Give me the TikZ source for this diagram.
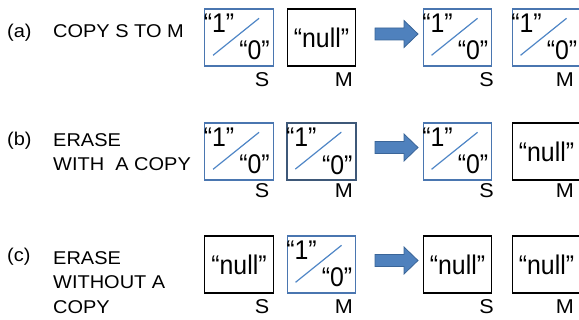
\documentclass[tikz,border=0pt]{standalone}
\usepackage{fontspec}
\setmainfont{Liberation Sans}
\newfontfamily\widefont[FakeStretch=1.08]{Liberation Sans}
\newfontfamily\bitfont[FakeStretch=0.92]{Liberation Sans}
\usepackage{xcolor}
\usepackage{tikz}
\definecolor{cellblue}{HTML}{4A76B0}
\definecolor{slashblue}{HTML}{4F86C6}
\definecolor{celldark}{HTML}{3E5878}
\definecolor{arrowfill}{HTML}{4F81BD}
\definecolor{arrowline}{HTML}{3A6598}

\begin{document}
\begin{tikzpicture}[x=1pt,y=-1pt,
        cell/.style={minimum width=68.5pt,minimum height=57pt,line width=1.4pt},
        bitcell/.style={cell,draw=cellblue},
        darkcell/.style={cell,draw=celldark,line width=1.8pt},
        nullcell/.style={cell,draw=black,font=\bitfont\fontsize{27}{30}\selectfont},
        bit/.style={font=\bitfont\fontsize{27}{30}\selectfont},
        slash/.style={draw=slashblue,line width=1.2pt},
        caption/.style={font=\widefont\fontsize{18.5}{24.5}\selectfont},
        regname/.style={font=\widefont\fontsize{20}{22}\selectfont,anchor=base east},
        blockarrow/.style={fill=arrowfill,draw=arrowline,line width=0.8pt}]
        \tikzstyle{every node}+=[inner sep=0pt]
        \clip (0,0) rectangle (579,320);
        \node[caption,anchor=base west] (a-tag) at (7,37.3) {(a)};
        \node[caption,anchor=base west] (a-text) at (53,37.3) {COPY S TO M};
        \node[caption,anchor=base west] (b-tag) at (7,145.5) {(b)};
        \node[caption,anchor=north west,align=left] (b-text) at (53,133) {ERASE\\WITH\ \ A COPY};
        \node[caption,anchor=base west] (c-tag) at (7,261.5) {(c)};
        \node[caption,anchor=north west,align=left] (c-text) at (53,251) {ERASE\\WITHOUT A\\COPY};
        \foreach \n/\x/\y/\s in {aS/239/37.5/bitcell, aS2/457.5/37.5/bitcell, aM2/546.5/37.5/bitcell,
                bS/239/151.5/bitcell, bM/321.5/151.5/darkcell, bS2/457.5/151.5/bitcell, cM/321.5/264.5/bitcell} {
            \node[\s] (\n) at (\x,\y) {};
            \node[bit,anchor=base west] (\n-one) at ([shift={(-0.5,24.3)}]\n.north west) {“1”};
            \node[bit,anchor=base east] (\n-zero) at ([shift={(-4,-6.7)}]\n.south east) {“0”};
            \draw[slash] ([shift={(9,47)}]\n.north west) -- ([shift={(55,10)}]\n.north west);
        }
        \foreach \n/\x/\y in {aM/321.5/37.5, bM2/546.5/151.5, cS/239/264.5, cS2/457.5/264.5, cM2/546.5/264.5}
            \node[nullcell] (\n) at (\x,\y) {“null”};
        \foreach \r/\y in {a/34, b/147.5, c/260.5}
            \draw[blockarrow] (375,\y-6) -- (404,\y-6) -- (404,\y-13.5) -- (418,\y)
                -- (404,\y+13.5) -- (404,\y+6) -- (375,\y+6) -- cycle;
        \foreach \r/\y in {a/87, b/198, c/313.5} {
            \node[regname] (\r-s1) at (269.5,\y) {S};
            \node[regname] (\r-m1) at (353,\y) {M};
            \node[regname] (\r-s2) at (494,\y) {S};
            \node[regname] (\r-m2) at (574,\y) {M};
        }
    \end{tikzpicture}
\end{document}
